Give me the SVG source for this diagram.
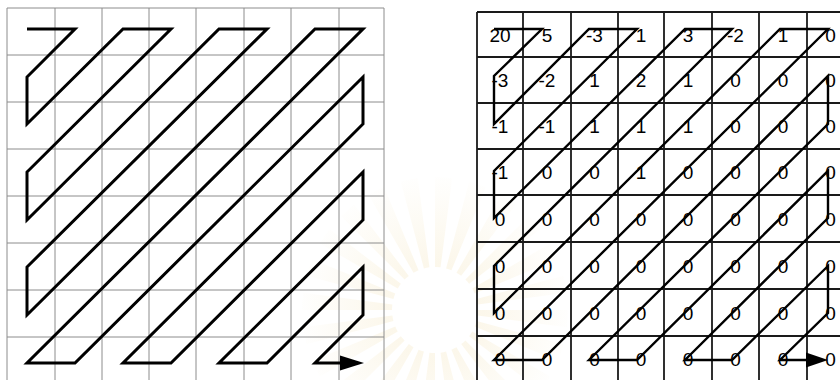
<svg xmlns="http://www.w3.org/2000/svg" width="840" height="380" viewBox="0 0 840 380">
<style>
.gl{fill:none;stroke:#8c8c8c;stroke-width:1}
.gr{fill:none;stroke:#1a1a1a;stroke-width:1.8}
.zl{fill:none;stroke:#000;stroke-width:3;stroke-linejoin:miter;stroke-miterlimit:10}
.zr{fill:none;stroke:#000;stroke-width:2.4;stroke-linejoin:miter;stroke-miterlimit:10}
.ah{fill:#000}
text{font-family:"Liberation Sans",Arial,sans-serif;font-size:19px;fill:#000;text-anchor:middle}
</style>
<defs>
<radialGradient id="wm" gradientUnits="userSpaceOnUse" cx="435" cy="310" r="140">
<stop offset="0.35" stop-color="#f3e3b8" stop-opacity="0.28"/>
<stop offset="1" stop-color="#f3e3b8" stop-opacity="0"/>
</radialGradient>
</defs>
<rect width="840" height="380" fill="#fff"/>
<g id="watermark">
<circle cx="435" cy="310" r="88" fill="none" stroke="url(#wm)" stroke-width="90" stroke-dasharray="11.5 11.5"/>
</g>
<g id="left-grid">
<path class="gl" d="M7,8V380M55,8V380M102,8V380M149,8V380M196,8V380M244,8V380M291,8V380M339,8V380M384,8V380M7,8H384M7,55H384M7,102H384M7,149H384M7,196H384M7,243H384M7,290H384M7,337H384"/>
</g>
<g id="right-grid">
<path class="gr" d="M477,12V380M523,12V380M571,12V380M618,12V380M664,12V380M712,12V380M759,12V380M807,12V380M477,12H840M477,57H840M477,103H840M477,149H840M477,195H840M477,242H840M477,289H840M477,336H840"/>
</g>
<g id="cells">
<text x="500" y="41.5">20</text><text x="547" y="41.5">5</text><text x="594.5" y="41.5">-3</text><text x="641" y="41.5">1</text><text x="688" y="41.5">3</text><text x="735.5" y="41.5">-2</text><text x="783" y="41.5">1</text><text x="830.5" y="41.5">0</text>
<text x="500" y="87">-3</text><text x="547" y="87">-2</text><text x="594.5" y="87">1</text><text x="641" y="87">2</text><text x="688" y="87">1</text><text x="735.5" y="87">0</text><text x="783" y="87">0</text><text x="830.5" y="87">0</text>
<text x="500" y="133">-1</text><text x="547" y="133">-1</text><text x="594.5" y="133">1</text><text x="641" y="133">1</text><text x="688" y="133">1</text><text x="735.5" y="133">0</text><text x="783" y="133">0</text><text x="830.5" y="133">0</text>
<text x="500" y="179">-1</text><text x="547" y="179">0</text><text x="594.5" y="179">0</text><text x="641" y="179">1</text><text x="688" y="179">0</text><text x="735.5" y="179">0</text><text x="783" y="179">0</text><text x="830.5" y="179">0</text>
<text x="500" y="225.5">0</text><text x="547" y="225.5">0</text><text x="594.5" y="225.5">0</text><text x="641" y="225.5">0</text><text x="688" y="225.5">0</text><text x="735.5" y="225.5">0</text><text x="783" y="225.5">0</text><text x="830.5" y="225.5">0</text>
<text x="500" y="272.5">0</text><text x="547" y="272.5">0</text><text x="594.5" y="272.5">0</text><text x="641" y="272.5">0</text><text x="688" y="272.5">0</text><text x="735.5" y="272.5">0</text><text x="783" y="272.5">0</text><text x="830.5" y="272.5">0</text>
<text x="500" y="319.5">0</text><text x="547" y="319.5">0</text><text x="594.5" y="319.5">0</text><text x="641" y="319.5">0</text><text x="688" y="319.5">0</text><text x="735.5" y="319.5">0</text><text x="783" y="319.5">0</text><text x="830.5" y="319.5">0</text>
<text x="500" y="366">0</text><text x="547" y="366">0</text><text x="594.5" y="366">0</text><text x="641" y="366">0</text><text x="688" y="366">0</text><text x="735.5" y="366">0</text><text x="783" y="366">0</text><text x="830.5" y="366">0</text>
</g>
<g id="connectors">
<path class="zl" d="M27,29L75,29L27,77L27,124L123,29L171,29L27,172L27,220L219,29L267,29L27,267L27,315L315,29L363,29L27,363L75,363L363,77L363,124L123,363L171,363L363,172L363,220L219,363L267,363L363,267L363,315L315,363L342,363"/>
<polygon class="ah" points="340,355.5 364,363 340,370.5"/>
<path class="zr" d="M494,29L542,29L494,76L494,124L589,29L637,29L494,171L494,218L685,29L732,29L494,266L494,313L780,29L828,29L494,360L542,360L828,76L828,124L589,360L637,360L828,171L828,218L685,360L732,360L828,266L828,313L780,360L808,360"/>
<polygon class="ah" points="806,352.5 828,360 806,367.5"/>
</g>
</svg>
